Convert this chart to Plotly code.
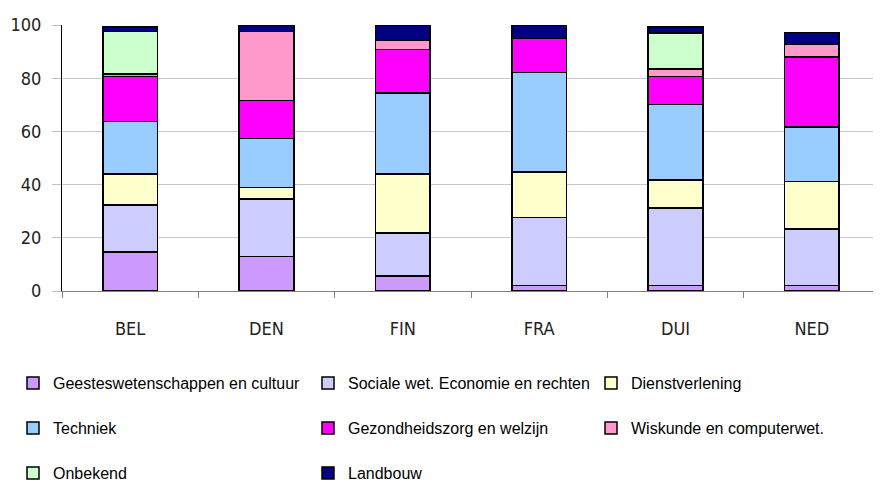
import plotly.graph_objects as go

countries = ["BEL", "DEN", "FIN", "FRA", "DUI", "NED"]

geesteswetenschappen = [14.6, 12.9, 5.6, 2.1, 2.1, 2.1]
sociale_wet = [17.8, 21.6, 16.3, 25.6, 29.1, 21.3]
dienstverlening = [11.5, 4.4, 22.0, 17.0, 10.5, 17.8]
techniek = [19.8, 18.5, 30.6, 37.5, 28.4, 20.5]
gezondheidszorg = [17.0, 14.3, 16.2, 12.8, 10.6, 26.3]
wiskunde = [0.8, 25.9, 3.5, 0.0, 2.8, 4.7]
onbekend = [16.1, 0.0, 0.0, 0.0, 13.5, 0.0]
landbouw = [1.6, 2.4, 5.8, 5.0, 2.2, 4.5]

series_names = [
    "Geesteswetenschappen en cultuur",
    "Sociale wet. Economie en rechten",
    "Dienstverlening",
    "Techniek",
    "Gezondheidszorg en welzijn",
    "Wiskunde en computerwet.",
    "Onbekend",
    "Landbouw",
]
series_values = [geesteswetenschappen, sociale_wet, dienstverlening, techniek,
                 gezondheidszorg, wiskunde, onbekend, landbouw]
colors = ["#CC99FF", "#CCCCFF", "#FFFFCC", "#99CCFF",
          "#FF00FF", "#FF99CC", "#CCFFCC", "#000080"]

y_ticks = [0, 20, 40, 60, 80, 100]

W, H = 881, 483
OFF = 8  # page body margin offset
# legend box positions (px in page): (left x, row centre y)
slots = [(13, 383), (308, 383), (591, 383),
         (13, 428), (308, 428), (591, 428),
         (13, 473), (308, 473)]

fig = go.Figure()
legend_layouts = {}
for i, (name, vals, col) in enumerate(zip(series_names, series_values, colors)):
    lname = "legend" if i == 0 else f"legend{i+1}"
    fig.add_trace(go.Bar(
        x=countries, y=vals, name=name,
        marker=dict(color=col, line=dict(color="black", width=1.5)),
        legend=lname,
    ))
    sx, sy = slots[i]
    legend_layouts[lname] = dict(
        xref="container", yref="container",
        x=(sx - OFF) / W, y=1 - (sy - OFF) / H,
        xanchor="left", yanchor="middle",
        bgcolor="rgba(0,0,0,0)", borderwidth=0,
        font=dict(family="Liberation Sans, Arial, sans-serif", size=16, color="black"),
    )

fig.update_layout(
    width=W, height=H,
    barmode="stack",
    bargap=0.6,
    plot_bgcolor="white",
    paper_bgcolor="white",
    margin=dict(l=62 - OFF, r=1 + OFF, t=25 - OFF, b=192 + OFF, autoexpand=False),
    showlegend=True,
    **legend_layouts,
)
fig.update_xaxes(
    type="category",
    showline=True, linecolor="#808080", linewidth=1,
    ticks="outside", tickson="boundaries", ticklen=6, tickcolor="#808080",
    tickfont=dict(family="DejaVu Sans Condensed, DejaVu Sans, sans-serif", size=18, color="#222222"),
    ticklabelstandoff=21, tickangle=0,
    showgrid=False, automargin=False,
)
fig.update_yaxes(
    range=[0, 100],
    tickvals=y_ticks,
    showline=True, linecolor="#000000", linewidth=1,
    ticks="outside", ticklen=9, tickcolor="#C0C0C0",
    showgrid=True, gridcolor="#C8C8C8", gridwidth=1,
    tickfont=dict(family="DejaVu Sans Condensed, DejaVu Sans, sans-serif", size=18, color="#222222"),
    ticklabelstandoff=7,
    zeroline=False, automargin=False,
)

fig.write_html("out.html")
